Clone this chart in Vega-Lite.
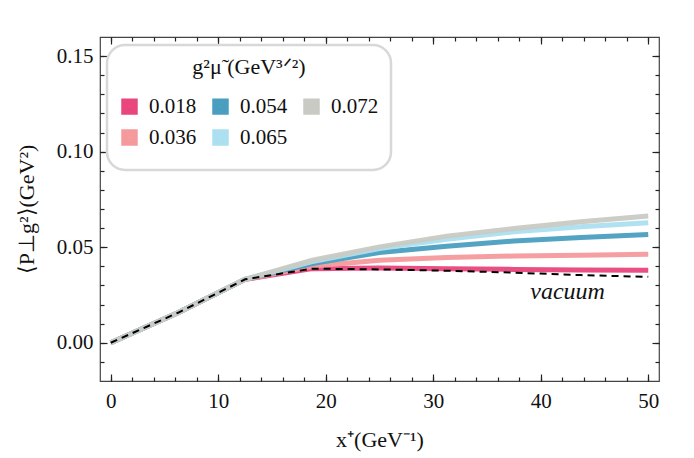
{
  "$schema": "https://vega.github.io/schema/vega-lite/v6.json",
  "width": 559,
  "height": 344,
  "autosize": "none",
  "padding": {"left": 100, "top": 37, "right": 35, "bottom": 77},
  "background": "white",
  "view": {"stroke": "#444", "strokeWidth": 1.2},
  "config": {
    "font": "Liberation Serif",
    "axis": {"domain": false, "grid": false, "tickColor": "#222", "tickWidth": 1.2, "labelFont": "Liberation Serif", "labelFontSize": 21, "labelColor": "#111", "titleFont": "Liberation Serif", "titleFontSize": 22, "titleFontWeight": "normal", "titleColor": "#111"}
  },
  "datasets": {
    "curves": [
      {"x": 0, "y": 0, "g": "0.018"}, {"x": 6.25, "y": 0.0157, "g": "0.018"}, {"x": 12.5, "y": 0.0332, "g": "0.018"}, {"x": 18.75, "y": 0.0388, "g": "0.018"}, {"x": 25, "y": 0.0391, "g": "0.018"}, {"x": 31.25, "y": 0.0388, "g": "0.018"}, {"x": 37.5, "y": 0.0384, "g": "0.018"}, {"x": 43.75, "y": 0.0381, "g": "0.018"}, {"x": 50, "y": 0.0380, "g": "0.018"},
      {"x": 0, "y": 0, "g": "0.036"}, {"x": 6.25, "y": 0.0157, "g": "0.036"}, {"x": 12.5, "y": 0.0332, "g": "0.036"}, {"x": 18.75, "y": 0.0400, "g": "0.036"}, {"x": 25, "y": 0.0432, "g": "0.036"}, {"x": 31.25, "y": 0.0446, "g": "0.036"}, {"x": 37.5, "y": 0.0454, "g": "0.036"}, {"x": 43.75, "y": 0.0458, "g": "0.036"}, {"x": 50, "y": 0.0463, "g": "0.036"},
      {"x": 0, "y": 0, "g": "0.054"}, {"x": 6.25, "y": 0.0157, "g": "0.054"}, {"x": 12.5, "y": 0.0332, "g": "0.054"}, {"x": 18.75, "y": 0.0415, "g": "0.054"}, {"x": 25, "y": 0.0472, "g": "0.054"}, {"x": 31.25, "y": 0.0505, "g": "0.054"}, {"x": 37.5, "y": 0.0533, "g": "0.054"}, {"x": 43.75, "y": 0.0551, "g": "0.054"}, {"x": 50, "y": 0.0567, "g": "0.054"},
      {"x": 0, "y": 0, "g": "0.065"}, {"x": 6.25, "y": 0.0157, "g": "0.065"}, {"x": 12.5, "y": 0.0332, "g": "0.065"}, {"x": 18.75, "y": 0.0425, "g": "0.065"}, {"x": 25, "y": 0.0493, "g": "0.065"}, {"x": 31.25, "y": 0.0542, "g": "0.065"}, {"x": 37.5, "y": 0.0581, "g": "0.065"}, {"x": 43.75, "y": 0.0607, "g": "0.065"}, {"x": 50, "y": 0.0628, "g": "0.065"},
      {"x": 0, "y": 0, "g": "0.072"}, {"x": 6.25, "y": 0.0157, "g": "0.072"}, {"x": 12.5, "y": 0.0332, "g": "0.072"}, {"x": 18.75, "y": 0.0432, "g": "0.072"}, {"x": 25, "y": 0.0502, "g": "0.072"}, {"x": 31.25, "y": 0.0558, "g": "0.072"}, {"x": 37.5, "y": 0.0598, "g": "0.072"}, {"x": 43.75, "y": 0.0633, "g": "0.072"}, {"x": 50, "y": 0.0663, "g": "0.072"}
    ],
    "vacuum": [
      {"x": 0, "y": 0}, {"x": 6.25, "y": 0.0157}, {"x": 12.5, "y": 0.0332}, {"x": 18.75, "y": 0.0388}, {"x": 25, "y": 0.0384}, {"x": 31.25, "y": 0.0377}, {"x": 37.5, "y": 0.0367}, {"x": 43.75, "y": 0.0354}, {"x": 50, "y": 0.0345}
    ],
    "label": [{"x": 42.5, "y": 0.0265, "text": "vacuum"}]
  },
  "resolve": {"axis": {"x": "independent", "y": "independent"}},
  "layer": [
    {
      "data": {"name": "curves"},
      "mark": {"type": "line", "strokeWidth": 5, "opacity": 0.95, "clip": true},
      "encoding": {
        "x": {"field": "x", "type": "quantitative", "scale": {"domain": [-1, 51], "nice": false, "zero": false},
              "axis": {"orient": "bottom", "values": [0, 10, 20, 30, 40, 50], "tickSize": -7, "labelPadding": 16, "title": "x⁺(GeV⁻¹)", "titlePadding": 18}},
        "y": {"field": "y", "type": "quantitative", "scale": {"domain": [-0.02, 0.16], "nice": false, "zero": false},
              "axis": {"orient": "left", "values": [0, 0.05, 0.1, 0.15], "format": ".2f", "tickSize": -7, "labelPadding": 14, "title": "⟨P⊥g²⟩(GeV²)", "titlePadding": 18}},
        "color": {"field": "g", "type": "nominal",
          "scale": {"domain": ["0.018", "0.036", "0.054", "0.065", "0.072"], "range": ["#e8467c", "#f49a9d", "#4a9ec0", "#acdff0", "#c9cac3"]},
          "legend": {"orient": "none", "legendX": 7, "legendY": 8, "columns": 3, "title": "g²μ̃ (GeV³ᐟ²)",
            "titleFont": "Liberation Serif", "titleFontSize": 22, "titleFontWeight": "normal", "titleColor": "#111", "titleAnchor": "middle", "titleAlign": "center", "titlePadding": 17,
            "labelFont": "Liberation Serif", "labelFontSize": 21, "labelColor": "#111", "labelOffset": 9,
            "symbolType": "square", "symbolSize": 72, "symbolStrokeWidth": 8, "symbolOpacity": 1, "columnPadding": 3, "rowPadding": -11, "padding": 12,
            "fillColor": "white", "strokeColor": "#d8d8d8", "cornerRadius": 18,
            "encode": {
              "legend": {"update": {"strokeWidth": {"value": 2.5}}}}}
        }
      }
    },
    {
      "data": {"name": "vacuum"},
      "mark": {"type": "line", "color": "black", "strokeWidth": 2, "strokeDash": [7, 5]},
      "encoding": {
        "x": {"field": "x", "type": "quantitative", "scale": {"domain": [-1, 51], "nice": false, "zero": false},
              "axis": {"orient": "top", "values": [0, 10, 20, 30, 40, 50], "tickSize": -7, "labels": false, "title": null}},
        "y": {"field": "y", "type": "quantitative", "scale": {"domain": [-0.02, 0.16], "nice": false, "zero": false},
              "axis": {"orient": "right", "values": [0, 0.05, 0.1, 0.15], "tickSize": -7, "labels": false, "title": null}}
      }
    },
    {
      "data": {"name": "label"},
      "mark": {"type": "text", "fontStyle": "italic", "fontSize": 24, "font": "Liberation Serif", "color": "#111"},
      "encoding": {
        "x": {"field": "x", "type": "quantitative", "scale": {"domain": [-1, 51], "nice": false, "zero": false},
              "axis": {"orient": "bottom", "values": [0, 2, 4, 6, 8, 10, 12, 14, 16, 18, 20, 22, 24, 26, 28, 30, 32, 34, 36, 38, 40, 42, 44, 46, 48, 50], "tickSize": -4, "labels": false, "title": null}},
        "y": {"field": "y", "type": "quantitative", "scale": {"domain": [-0.02, 0.16], "nice": false, "zero": false},
              "axis": {"orient": "left", "values": [-0.01, 0, 0.01, 0.02, 0.03, 0.04, 0.05, 0.06, 0.07, 0.08, 0.09, 0.1, 0.11, 0.12, 0.13, 0.14, 0.15], "tickSize": -4, "labels": false, "title": null}},
        "text": {"field": "text"}
      }
    },
    {
      "data": {"name": "vacuum"},
      "mark": {"type": "point", "opacity": 0},
      "encoding": {
        "x": {"field": "x", "type": "quantitative", "scale": {"domain": [-1, 51], "nice": false, "zero": false},
              "axis": {"orient": "top", "values": [0, 2, 4, 6, 8, 10, 12, 14, 16, 18, 20, 22, 24, 26, 28, 30, 32, 34, 36, 38, 40, 42, 44, 46, 48, 50], "tickSize": -4, "labels": false, "title": null}},
        "y": {"field": "y", "type": "quantitative", "scale": {"domain": [-0.02, 0.16], "nice": false, "zero": false},
              "axis": {"orient": "right", "values": [-0.01, 0, 0.01, 0.02, 0.03, 0.04, 0.05, 0.06, 0.07, 0.08, 0.09, 0.1, 0.11, 0.12, 0.13, 0.14, 0.15], "tickSize": -4, "labels": false, "title": null}}
      }
    }
  ]
}
